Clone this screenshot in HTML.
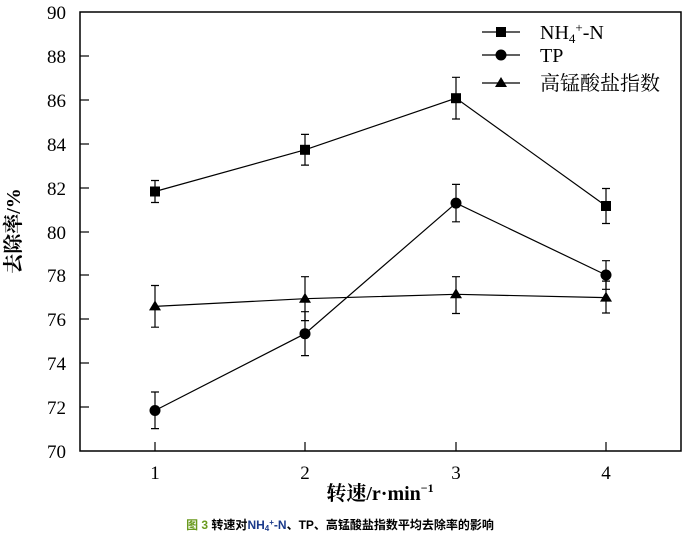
<!DOCTYPE html>
<html><head><meta charset="utf-8"><style>
body{margin:0;background:#fff}
svg text{font-family:"Liberation Serif","Noto Serif CJK SC",serif;fill:#000}
</style></head><body>
<svg width="692" height="535" viewBox="0 0 692 535" xmlns="http://www.w3.org/2000/svg">
<rect x="80" y="12" width="601" height="439" fill="none" stroke="#000" stroke-width="1.5"/>
<g stroke="#000" stroke-width="1.2">
<line x1="80" y1="56" x2="89" y2="56"/><line x1="80" y1="100" x2="89" y2="100"/>
<line x1="80" y1="144" x2="89" y2="144"/><line x1="80" y1="188" x2="89" y2="188"/>
<line x1="80" y1="232" x2="89" y2="232"/><line x1="80" y1="275" x2="89" y2="275"/>
<line x1="80" y1="319" x2="89" y2="319"/><line x1="80" y1="363" x2="89" y2="363"/>
<line x1="80" y1="407" x2="89" y2="407"/>
<line x1="155" y1="451" x2="155" y2="442"/><line x1="305" y1="451" x2="305" y2="442"/>
<line x1="456" y1="451" x2="456" y2="442"/><line x1="606" y1="451" x2="606" y2="442"/>
</g>
<g font-size="19" text-anchor="end">
<text x="66" y="19">90</text><text x="66" y="63">88</text><text x="66" y="107">86</text>
<text x="66" y="151">84</text><text x="66" y="195">82</text><text x="66" y="239">80</text>
<text x="66" y="282">78</text><text x="66" y="326">76</text><text x="66" y="370">74</text>
<text x="66" y="414">72</text><text x="66" y="458">70</text>
</g>
<g font-size="19" text-anchor="middle">
<text x="155" y="479">1</text><text x="305" y="479">2</text><text x="456" y="479">3</text><text x="606" y="479">4</text>
<text x="380" y="500" font-weight="bold" font-size="20">转速/r·min<tspan font-size="12" dy="-8">−1</tspan></text>
</g>
<text transform="translate(20,231) rotate(-90)" font-size="20" font-weight="bold" text-anchor="middle">去除率/%</text>
<g stroke="#000" stroke-width="1.2" fill="none">
<polyline points="155,191.5 305,149.8 456,98.2 606,206"/>
<polyline points="155,410.5 305,333.7 456,203.1 606,275"/>
<polyline points="155,306.4 305,298.7 456,294.3 606,297.6"/>
<path d="M155,180.5V202.5M151,180.5h8M151,202.5h8 M305,134.4V165.1M301,134.4h8M301,165.1h8 M456,77.3V119M452,77.3h8M452,119h8 M606,188.5V223.5M602,188.5h8M602,223.5h8"/>
<path d="M155,392V428.6M151,392h8M151,428.6h8 M305,311.7V355.6M301,311.7h8M301,355.6h8 M456,184.4V221.8M452,184.4h8M452,221.8h8 M606,260.7V275M602,260.7h8 M606,275V289.3M602,289.3h8"/>
<path d="M155,285.5V327.2M151,285.5h8M151,327.2h8 M305,276.7V320.6M301,276.7h8M301,320.6h8 M456,276.7V313.5M452,276.7h8M452,313.5h8 M606,281.1V313M602,281.1h8M602,313h8"/>
<line x1="482" y1="32" x2="520" y2="32"/><line x1="482" y1="55" x2="520" y2="55"/><line x1="482" y1="83" x2="520" y2="83"/>
</g>
<g fill="#000">
<rect x="150" y="186.5" width="10" height="10"/><rect x="300" y="144.8" width="10" height="10"/>
<rect x="451" y="93.2" width="10" height="10"/><rect x="601" y="201" width="10" height="10"/>
<circle cx="155" cy="410.5" r="5.5"/><circle cx="305" cy="333.7" r="5.5"/>
<circle cx="456" cy="203.1" r="5.5"/><circle cx="606" cy="275" r="5.5"/>
<path d="M155,300.4l6,10h-12z"/><path d="M305,292.7l6,10h-12z"/>
<path d="M456,288.3l6,10h-12z"/><path d="M606,291.6l6,10h-12z"/>
<rect x="496" y="27" width="10" height="10"/><circle cx="501" cy="55" r="5.5"/><path d="M501,77l6,10h-12z"/>
</g>
<g font-size="20">
<text x="540" y="39">NH<tspan font-size="13" dy="4">4</tspan><tspan font-size="13" dy="-11">+</tspan><tspan dy="7">-N</tspan></text>
<text x="540" y="62">TP</text>
<text x="540" y="90">高锰酸盐指数</text>
</g>
<text x="340" y="529" font-size="12" font-weight="bold" text-anchor="middle" style='font-family:"Liberation Sans","Noto Sans CJK SC",sans-serif'><tspan fill="#6a9a1f">图 3 </tspan>转速对<tspan fill="#1a3a8a">NH<tspan font-size="8" dy="2">4</tspan><tspan font-size="8" dy="-6">+</tspan><tspan dy="4">-N</tspan></tspan>、TP、高锰酸盐指数平均去除率的影响</text>
</svg>
</body></html>
